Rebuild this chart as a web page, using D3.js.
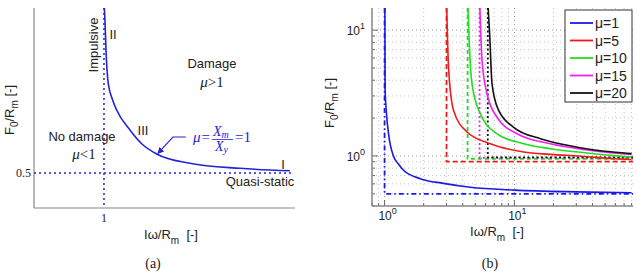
<!DOCTYPE html>
<html>
<head>
<meta charset="UTF-8">
<title>P-I curves</title>
<style>
  body { margin: 0; background: #fff; }
  text { font-family: "Liberation Sans", Arial, sans-serif; fill: #222; }
  .serif { font-family: "Liberation Serif", "Times New Roman", serif; }
</style>
</head>
<body>
<div id="chart"></div>
<script src="https://cdn.jsdelivr.net/npm/d3@7"></script>
<script>
// ---- panel (a): schematic mu = 1 curve (linear axes)
const aImpulse = [1.005, 1.014, 1.029, 1.061, 1.124, 1.181, 1.371, 1.543, 1.753, 2.229, 2.943, 3.657];
const aForce   = [2.857, 2.686, 2.257, 1.781, 1.543, 1.40, 1.114, 0.914, 0.771, 0.639, 0.567, 0.533];
const aImpulseAsym = 1;
const aForceAsym = 0.5;

// ---- panel (b): curves for several ductility ratios (log axes)
const mu = [1, 5, 10, 15, 20];
const mu1Impulse  = [1.005, 1.01, 1.03, 1.073, 1.17, 1.27, 1.40, 1.88, 2.85, 4.58, 10, 30, 80];
const mu1Force    = [15, 3.3, 2.3, 1.50, 1.00, 0.87, 0.77, 0.66, 0.605, 0.563, 0.535, 0.518, 0.51];
const mu5Impulse  = [3.01, 3.11, 3.40, 4.32, 6.53, 11.8, 18.9, 35, 55, 80];
const mu5Force    = [15, 5.04, 2.30, 1.55, 1.25, 1.075, 1.03, 0.99, 0.955, 0.937];
const mu10Impulse = [4.39, 4.52, 4.72, 5.47, 7.36, 11.8, 18.9, 35, 55, 80];
const mu10Force   = [15, 6.83, 3.73, 2.16, 1.50, 1.25, 1.14, 1.06, 1.01, 0.98];
const mu15Impulse = [5.42, 5.64, 6.16, 7.36, 10.5, 18.9, 35, 55, 80];
const mu15Force   = [15, 5.69, 3.11, 2.03, 1.50, 1.25, 1.12, 1.06, 1.026];
const mu20Impulse = [6.28, 6.45, 6.73, 7.57, 9.88, 15.9, 25, 40, 60, 80];
const mu20Force   = [15, 9.25, 3.73, 2.30, 1.69, 1.37, 1.22, 1.12, 1.07, 1.044];
const impulseAsym = [1, 3, 4.36, 5.39, 6.24];
const forceAsym   = [0.5, 0.9, 0.95, 0.967, 0.975];

const colors = ["#1a1ae8", "#ee1c1c", "#22dd22", "#ee22ee", "#111"];
const dashes = ["5,3,1.5,3", "5,3", "4,3", "2,2.5", "2,2.5"];

const svg = d3.select("#chart").append("svg")
    .attr("width", 636).attr("height", 272)
    .style("background", "#fff");

// ================= panel (a) =================
const xA = d3.scaleLinear().domain([0, 3.73]).range([34, 295]);
const yA = d3.scaleLinear().domain([0, 2.857]).range([208, 8]);
const blueA = "#2323d8";

const gA = svg.append("g");
gA.append("line").attr("x1", xA(0)).attr("x2", xA(0)).attr("y1", yA(2.857)).attr("y2", yA(0))
    .attr("stroke", "#888").attr("stroke-width", 1.2);
gA.append("line").attr("x1", xA(0)).attr("x2", xA(3.73)).attr("y1", yA(0)).attr("y2", yA(0))
    .attr("stroke", "#888").attr("stroke-width", 1.2);

// asymptotes
gA.append("line").attr("x1", xA(aImpulseAsym)).attr("x2", xA(aImpulseAsym))
    .attr("y1", yA(2.857)).attr("y2", yA(0))
    .attr("stroke", blueA).attr("stroke-width", 1.5).attr("stroke-dasharray", "2,3");
gA.append("line").attr("x1", xA(0)).attr("x2", xA(3.68))
    .attr("y1", yA(aForceAsym)).attr("y2", yA(aForceAsym))
    .attr("stroke", blueA).attr("stroke-width", 1.5).attr("stroke-dasharray", "2,3");

const lineA = d3.line().x(d => xA(d[0])).y(d => yA(d[1])).curve(d3.curveMonotoneX);
gA.append("path").attr("d", lineA(d3.zip(aImpulse, aForce)))
    .attr("fill", "none").attr("stroke", blueA).attr("stroke-width", 1.6);

// arrow to curve
svg.append("defs").append("marker").attr("id", "arr")
    .attr("viewBox", "0 0 10 10").attr("refX", 9).attr("refY", 5)
    .attr("markerWidth", 6).attr("markerHeight", 6).attr("orient", "auto")
    .append("path").attr("d", "M0,0 L10,5 L0,10 z").attr("fill", blueA);
gA.append("path")
    .attr("d", d3.line()([[xA(2.17), yA(1.014)], [xA(1.986), yA(1.014)], [xA(1.77), yA(0.78)]]))
    .attr("fill", "none").attr("stroke", blueA).attr("stroke-width", 1.1)
    .attr("marker-end", "url(#arr)");

// tick labels
gA.append("text").attr("class", "serif").attr("x", 31).attr("y", yA(0.5) + 4)
    .attr("text-anchor", "end").attr("font-size", 12).text("0.5");
gA.append("text").attr("class", "serif").attr("x", xA(1)).attr("y", 222)
    .attr("text-anchor", "middle").attr("font-size", 12).text("1");

// region texts
const t = (x, y, s, opts = {}) => gA.append("text").attr("x", x).attr("y", y)
    .attr("font-size", opts.size || 13).attr("text-anchor", opts.anchor || "middle")
    .attr("transform", opts.rot ? `rotate(-90,${x},${y})` : null).text(s);
t(98, 45, "Impulsive", { rot: true });
t(113, 39, "II");
t(212, 68, "Damage");
t(143, 135, "III");
t(82, 141, "No damage");
t(283, 169, "I");
t(260, 186, "Quasi-static");

const muText = (x, y, rel) => {
    const tx = gA.append("text").attr("x", x).attr("y", y).attr("text-anchor", "middle")
        .attr("class", "serif").attr("font-size", 15);
    tx.append("tspan").attr("font-style", "italic").text("μ");
    tx.append("tspan").text(rel);
};
muText(212, 87, ">1");
muText(84, 159, "<1");

// mu = Xm / Xy = 1
const fr = gA.append("g");
const sub = (x, y, main, s) => {
    const tx = fr.append("text").attr("class", "serif").attr("x", x).attr("y", y)
        .attr("font-size", 14).attr("font-style", "italic").style("fill", blueA);
    tx.append("tspan").text(main);
    tx.append("tspan").attr("font-size", 10).attr("dy", 2).text(s);
};
const tx0 = fr.append("text").attr("class", "serif").attr("x", 193).attr("y", 142)
    .attr("font-size", 15).style("fill", blueA);
tx0.append("tspan").attr("font-style", "italic").text("μ");
tx0.append("tspan").attr("dx", 1).text("=");
sub(213, 136, "X", "m");
sub(215, 151, "X", "y");
fr.append("line").attr("x1", 212).attr("x2", 233).attr("y1", 139.5).attr("y2", 139.5)
    .attr("stroke", blueA).attr("stroke-width", 0.8);
fr.append("text").attr("class", "serif").attr("x", 235).attr("y", 142)
    .attr("font-size", 15).style("fill", blueA).text("=1");

// axis labels
const xlab = (g, cx, y) => {
    const tx = g.append("text").attr("x", cx).attr("y", y).attr("text-anchor", "middle").attr("font-size", 13)
        .attr("xml:space", "preserve");
    tx.append("tspan").text("Iω/R");
    tx.append("tspan").attr("font-size", 10).attr("dy", 5).text("m");
    tx.append("tspan").attr("dy", -5).text("  [-]");
};
const ylab = (g, x, cy) => {
    const tx = g.append("text").attr("x", 0).attr("y", 0).attr("text-anchor", "middle").attr("font-size", 13)
        .attr("transform", `translate(${x},${cy}) rotate(-90)`);
    tx.append("tspan").text("F");
    tx.append("tspan").attr("font-size", 10).attr("dy", 4).text("0");
    tx.append("tspan").attr("dy", -4).text("/R");
    tx.append("tspan").attr("font-size", 10).attr("dy", 4).text("m");
    tx.append("tspan").attr("dy", -4).text(" [-]");
};
xlab(gA, 171, 239);
ylab(gA, 14, 110);
gA.append("text").attr("class", "serif").attr("x", 153).attr("y", 268)
    .attr("text-anchor", "middle").attr("font-size", 14).text("(a)");

// ================= panel (b) =================
const xB = d3.scaleLog().domain([0.8, 82]).range([372, 633]);
const yB = d3.scaleLog().domain([0.4, 15]).range([206, 8]);
const gB = svg.append("g");

gB.append("clipPath").attr("id", "clipB").append("rect")
    .attr("x", 372).attr("y", 8).attr("width", 261).attr("height", 198);

const xTicks = xB.ticks().filter(v => v >= 0.8 && v <= 82);
const yTicks = yB.ticks().filter(v => v >= 0.4 && v <= 15);
const isMajor = v => Math.abs(Math.log10(v) - Math.round(Math.log10(v))) < 1e-9;

// grid
gB.selectAll(".gx").data(xTicks).enter().append("line")
    .attr("x1", d => xB(d)).attr("x2", d => xB(d)).attr("y1", 8).attr("y2", 206)
    .attr("stroke", d => isMajor(d) ? "#999" : "#c4c4c4").attr("stroke-width", 1)
    .attr("stroke-dasharray", "1,3");
gB.selectAll(".gy").data(yTicks).enter().append("line")
    .attr("y1", d => yB(d)).attr("y2", d => yB(d)).attr("x1", 372).attr("x2", 633)
    .attr("stroke", d => isMajor(d) ? "#999" : "#c4c4c4").attr("stroke-width", 1)
    .attr("stroke-dasharray", "1,3");

// ticks (inside)
gB.selectAll(".tx").data(xTicks).enter().append("line")
    .attr("x1", d => xB(d)).attr("x2", d => xB(d)).attr("y1", 206).attr("y2", d => isMajor(d) ? 200 : 203)
    .attr("stroke", "#666");
gB.selectAll(".ty").data(yTicks).enter().append("line")
    .attr("y1", d => yB(d)).attr("y2", d => yB(d)).attr("x1", 372).attr("x2", d => isMajor(d) ? 378 : 375)
    .attr("stroke", "#666");

// axes lines
gB.append("line").attr("x1", 372).attr("x2", 372).attr("y1", 8).attr("y2", 206)
    .attr("stroke", "#888").attr("stroke-width", 1.5);
gB.append("line").attr("x1", 372).attr("x2", 633).attr("y1", 206).attr("y2", 206)
    .attr("stroke", "#888").attr("stroke-width", 1.5);

// tick labels 10^n
const pow10 = (x, y, e, anchor) => {
    const tx = gB.append("text").attr("x", x).attr("y", y).attr("text-anchor", anchor).attr("font-size", 12);
    tx.append("tspan").text("10");
    tx.append("tspan").attr("font-size", 9).attr("dy", -6).text(e);
};
xTicks.filter(isMajor).forEach(v => pow10(xB(v) + 3, 220, Math.round(Math.log10(v)), "middle"));
yTicks.filter(isMajor).forEach(v => pow10(365, yB(v) + 5, Math.round(Math.log10(v)), "end"));

// asymptotes and curves
const curves = [
    d3.zip(mu1Impulse, mu1Force), d3.zip(mu5Impulse, mu5Force), d3.zip(mu10Impulse, mu10Force),
    d3.zip(mu15Impulse, mu15Force), d3.zip(mu20Impulse, mu20Force)
];
const plot = gB.append("g").attr("clip-path", "url(#clipB)");
const lineB = d3.line().x(d => xB(d[0])).y(d => yB(d[1])).curve(d3.curveMonotoneX);

mu.forEach((m, i) => {
    plot.append("path")
        .attr("d", d3.line()([[xB(impulseAsym[i]), yB(15)], [xB(impulseAsym[i]), yB(forceAsym[i])], [xB(82), yB(forceAsym[i])]]))
        .attr("fill", "none").attr("stroke", colors[i]).attr("stroke-width", 1.8)
        .attr("stroke-dasharray", dashes[i]);
});
mu.forEach((m, i) => {
    plot.append("path").attr("d", lineB(curves[i]))
        .attr("fill", "none").attr("stroke", colors[i]).attr("stroke-width", 1.6);
});

// legend
const lg = gB.append("g");
lg.append("rect").attr("x", 565).attr("y", 10).attr("width", 67).attr("height", 92)
    .attr("fill", "#fff").attr("stroke", "#333").attr("stroke-width", 1);
mu.forEach((m, i) => {
    const y = 23 + i * 17.5;
    lg.append("line").attr("x1", 570).attr("x2", 593).attr("y1", y).attr("y2", y)
        .attr("stroke", colors[i]).attr("stroke-width", 1.8);
    lg.append("text").attr("x", 595).attr("y", y + 5).attr("font-size", 14).text("μ=" + m);
});

xlab(gB, 497, 236);
ylab(gB, 334, 103);
gB.append("text").attr("class", "serif").attr("x", 490).attr("y", 268)
    .attr("text-anchor", "middle").attr("font-size", 14).text("(b)");
</script>
</body>
</html>
